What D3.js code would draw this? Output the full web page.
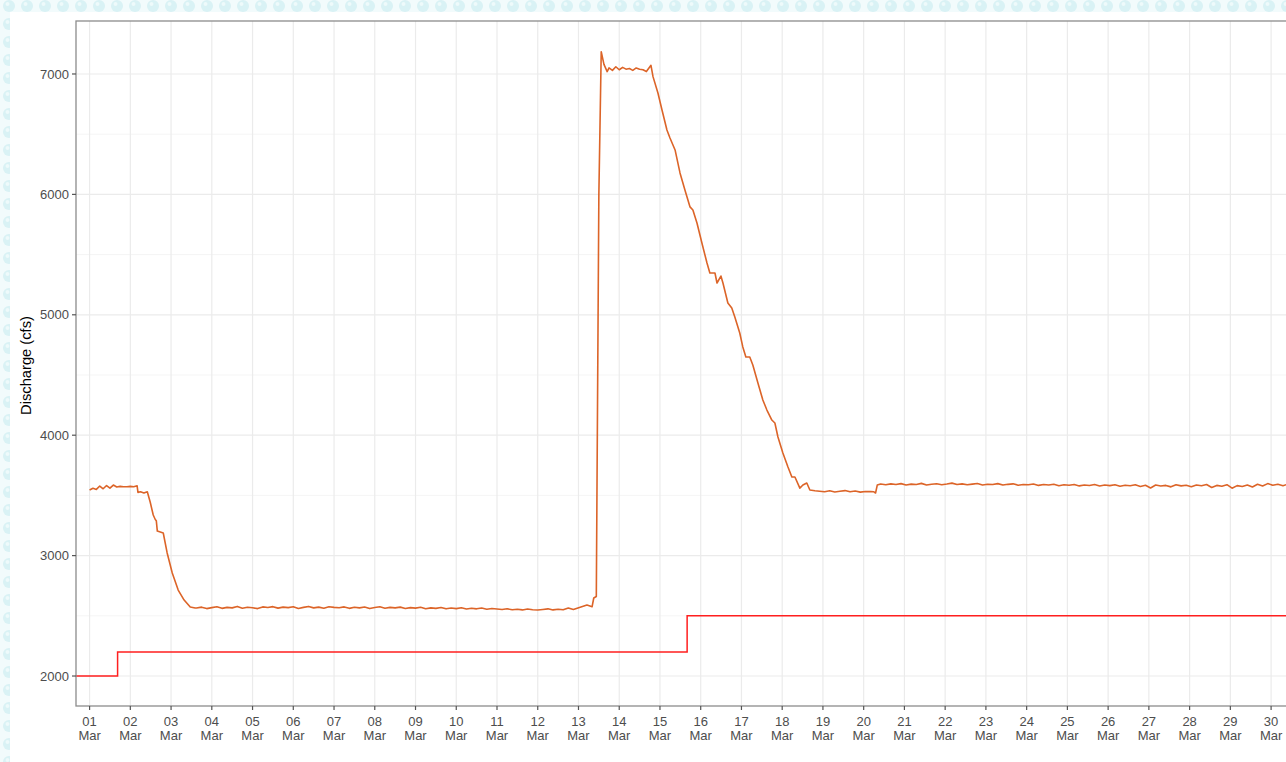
<html><head>
<meta charset="utf-8">
<title>Discharge (cfs)</title>
<style>
  body { margin: 0; background: #fff; }
  svg { display: block; }
  text { font-family: "Liberation Sans", Arial, sans-serif; }
</style>
<script src="https://cdn.jsdelivr.net/npm/d3@7"></script>
</head>
<body>
<svg id="chart" width="1286" height="762"></svg>
<script>
// hours since 01 Mar 00:00, discharge in cfs
const flowStart = [[0,3545],[2,3560],[4,3550],[6,3578],[8,3555],[10,3582],[12,3560],[14,3586],
  [16,3570],[18,3575],[20,3572],[22,3572],[24,3575],[26,3572],[28,3580],[28.5,3525],[30,3530],
  [32,3520],[34,3530]];
const flowFall1 = [[35.7,3445],[37.5,3337],[38.7,3300],[39.3,3290],[39.9,3204],[43.4,3188],
  [45.7,3022],[48.7,2855],[52.2,2714],[55.7,2631],[59.3,2573],[62.2,2565]];
const flowLow = [[63,2565],[66,2572],[69,2560],[72,2568],[75,2575],[78,2562],[81,2570],[84,2566],
  [87,2578],[90,2563],[93,2571],[96,2567],[99,2560],[102,2574],[105,2569],[108,2576],[111,2564],
  [114,2572],[117,2568],[120,2575],[123,2561],[126,2570],[129,2578],[132,2566],[135,2572],
  [138,2563],[141,2575],[144,2570],[147,2567],[150,2574],[153,2562],[156,2571],[159,2566],
  [162,2573],[165,2560],[168,2569],[171,2575],[174,2563],[177,2570],[180,2566],[183,2572],
  [186,2561],[189,2568],[192,2564],[195,2571],[198,2559],[201,2566],[204,2562],[207,2569],
  [210,2558],[213,2565],[216,2560],[219,2567],[222,2556],[225,2563],[228,2558],[231,2565],
  [234,2555],[237,2561],[240,2557],[243,2552],[246,2558],[249,2550],[252,2555],[255,2549],
  [258,2556],[261,2551],[264,2548],[267,2553],[270,2558],[273,2549],[276,2555],[279,2550],
  [282,2565],[285,2552]];
const flowPulse = [[293,2590],[296,2575],[297,2648],[298.5,2660],[300,6000],[301.4,7185],
  [303,7080],[304.9,7020],[306,7050],[308,7030],[310,7060],[312,7035],[314,7055],[316,7040],
  [318,7045],[320,7030],[322,7050],[324,7040],[326,7035],[328,7020],[330.7,7072]];
const flowFall2 = [[331.9,6978],[334.8,6842],[337.2,6701],[340.1,6535],[341.9,6468],[344.9,6369],
  [347.8,6178],[350.7,6037],[353.7,5896],[355.4,5870],[357.8,5762],[360.7,5596],[363.7,5430],
  [365.4,5347],[368.4,5347],[369.6,5264],[371.9,5322],[373.1,5264],[376,5098],[378.3,5056],
  [380.1,4982],[383,4849],[384.8,4733],[386.6,4650],[388.9,4650],[390.7,4583],[393.7,4434],
  [396.6,4292],[399,4209],[401.9,4126],[403.7,4101],[405.5,3985],[408.4,3852],[411.4,3736],
  [413.7,3653],[415.5,3653],[418.4,3561],[420.2,3586],[422.5,3603],[424.3,3545],[427.3,3539]];
const flowMid = [[430,3535],[433,3530],[436,3538],[439,3528],[442,3534],[445,3540],[448,3530],
  [451,3536],[454,3527],[457,3533],[460,3531],[462,3530],[463,3520],[464,3586]];
const flowHigh = [[466,3595],[469,3588],[472,3596],[475,3590],[478,3598],[481,3587],[484,3594],
  [487,3591],[490,3600],[493,3586],[496,3593],[499,3597],[502,3589],[505,3595],[508,3602],
  [511,3590],[514,3596],[517,3588],[520,3594],[523,3599],[526,3587],[529,3593],[532,3590],
  [535,3598],[538,3586],[541,3592],[544,3596],[547,3585],[550,3591],[553,3588],[556,3595],
  [559,3583],[562,3590],[565,3586],[568,3593],[571,3580],[574,3588],[577,3584],[580,3591],
  [583,3579],[586,3587],[589,3582],[592,3590],[595,3578],[598,3586],[601,3581],[604,3589],
  [607,3576],[610,3585],[613,3580],[616,3588],[619,3574],[622,3584],[625,3562],[628,3586],
  [631,3578],[634,3583],[637,3571],[640,3588],[643,3579],[646,3584],[649,3572],[652,3586],
  [655,3580],[658,3590],[661,3566],[664,3583],[667,3576],[670,3589],[673,3560],[676,3581],
  [679,3574],[682,3587],[685,3570],[688,3592],[691,3578],[694,3598],[697,3584],[700,3592],
  [703,3580],[706,3594],[709,3588],[712,3590]];

// required minimum flow, step changes
const limitHours = [-8, 16.5, 352, 736];
const limitCfs = [2000, 2200, 2500, 2500];

const yMajor = [2000, 3000, 4000, 5000, 6000, 7000];
const yMinor = [2500, 3500, 4500, 5500, 6500];

const startDay = Date.UTC(2021, 2, 1);
const toDate = h => new Date(startDay + h * 3600000);

const discharge = [].concat(flowStart, flowFall1, flowLow, flowPulse, flowFall2, flowMid, flowHigh)
  .map(d => ({t: toDate(d[0]), v: d[1]}));
const limit = limitHours.map((h, i) => ({t: toDate(h), v: limitCfs[i]}));

const pLeft = 76, pRight = 1339, pTop = 21, pBottom = 706;

const x = d3.scaleUtc().domain([toDate(-8), toDate(736)]).range([pLeft, pRight]);
const y = d3.scaleLinear().domain([1751, 7440]).range([pBottom, pTop]);

const svg = d3.select("#chart");

// patterned page background
const defs = svg.append("defs");
const pat = defs.append("pattern").attr("id", "bg").attr("patternUnits", "userSpaceOnUse")
  .attr("width", 18).attr("height", 18);
pat.append("rect").attr("width", 18).attr("height", 18).attr("fill", "#f2fbfc");
pat.append("circle").attr("cx", 9).attr("cy", 6).attr("r", 6).attr("fill", "#d9f2f5");
pat.append("circle").attr("cx", 7.5).attr("cy", 4).attr("r", 2).attr("fill", "#eefafb");
defs.append("clipPath").attr("id", "panel")
  .append("rect").attr("x", pLeft).attr("y", pTop).attr("width", pRight - pLeft).attr("height", pBottom - pTop);

svg.append("rect").attr("width", 1286).attr("height", 762).attr("fill", "url(#bg)");
svg.append("rect").attr("x", 10).attr("y", 12).attr("width", 1276).attr("height", 750).attr("fill", "#fff");

// day breaks that fall inside the visible page
const days = x.ticks(d3.utcDay.every(1)).filter(d => x(d) < 1280);

// grid
const grid = svg.append("g").attr("clip-path", "url(#panel)");
grid.selectAll(".ymin").data(yMinor).join("line")
  .attr("x1", pLeft).attr("x2", pRight).attr("y1", d => y(d)).attr("y2", d => y(d))
  .attr("stroke", "#f3f3f3").attr("stroke-width", 0.8);
grid.selectAll(".ymaj").data(yMajor).join("line")
  .attr("x1", pLeft).attr("x2", pRight).attr("y1", d => y(d)).attr("y2", d => y(d))
  .attr("stroke", "#ebebeb").attr("stroke-width", 1.2);
grid.selectAll(".xmaj").data(days).join("line")
  .attr("x1", d => x(d)).attr("x2", d => x(d)).attr("y1", pTop).attr("y2", pBottom)
  .attr("stroke", "#ebebeb").attr("stroke-width", 1.2);

// series
const plot = svg.append("g").attr("clip-path", "url(#panel)");
plot.append("path").datum(limit)
  .attr("fill", "none").attr("stroke", "#ff1f1f").attr("stroke-width", 1.5)
  .attr("d", d3.line().x(d => x(d.t)).y(d => y(d.v)).curve(d3.curveStepAfter));
plot.append("path").datum(discharge)
  .attr("fill", "none").attr("stroke", "#dc6428").attr("stroke-width", 1.6)
  .attr("stroke-linejoin", "round")
  .attr("d", d3.line().x(d => x(d.t)).y(d => y(d.v)));

// panel border
svg.append("rect").attr("x", pLeft).attr("y", pTop).attr("width", pRight - pLeft).attr("height", pBottom - pTop)
  .attr("fill", "none").attr("stroke", "#8c8c8c").attr("stroke-width", 1.3);

// y axis
const ya = svg.append("g");
ya.selectAll("line").data(yMajor).join("line")
  .attr("x1", pLeft - 4).attr("x2", pLeft).attr("y1", d => y(d)).attr("y2", d => y(d))
  .attr("stroke", "#555").attr("stroke-width", 1.2);
ya.selectAll("text").data(yMajor).join("text")
  .attr("x", pLeft - 7).attr("y", d => y(d)).attr("dy", "0.36em")
  .attr("text-anchor", "end").attr("font-size", 13).attr("fill", "#4d4d4d")
  .text(d => d);

// x axis
const xa = svg.append("g");
xa.selectAll("line").data(days).join("line")
  .attr("x1", d => x(d)).attr("x2", d => x(d)).attr("y1", pBottom).attr("y2", pBottom + 4)
  .attr("stroke", "#555").attr("stroke-width", 1.2);
const lab = xa.selectAll("text").data(days).join("text")
  .attr("text-anchor", "middle").attr("font-size", 13).attr("fill", "#4d4d4d");
lab.append("tspan").attr("x", d => x(d)).attr("y", 725.5).text(d3.utcFormat("%d"));
lab.append("tspan").attr("x", d => x(d)).attr("y", 739.5).text(d3.utcFormat("%b"));

svg.append("text")
  .attr("transform", "translate(31," + ((pTop + pBottom) / 2 + 2) + ") rotate(-90)")
  .attr("text-anchor", "middle").attr("font-size", 14.7).attr("fill", "#000")
  .text("Discharge (cfs)");
</script>
</body></html>
